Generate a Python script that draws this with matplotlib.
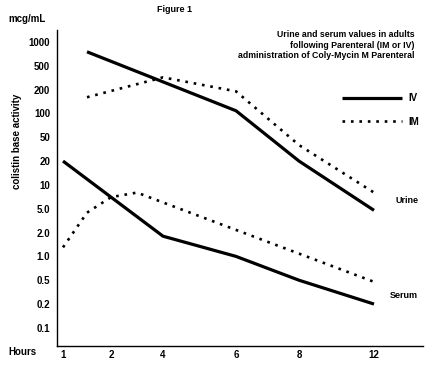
"""
Figure 1 - colistin base activity, urine and serum, IM vs IV
"""
import numpy as np
import matplotlib
matplotlib.use('Agg')
import matplotlib.pyplot as plt

plt.rcParams['font.family'] = ['Liberation Sans', 'DejaVu Sans']
plt.rcParams['font.weight'] = 'bold'

# data
hour_ticks = [1, 2, 4, 6, 8, 12]
conc_ticks = [0.1, 0.2, 0.5, 1.0, 2.0, 5.0, 10, 20, 50, 100, 200, 500, 1000]
conc_labels = ['0.1', '0.2', '0.5', '1.0', '2.0', '5.0', '10', '20', '50',
               '100', '200', '500', '1000']

urine_iv_h = [1.5, 6, 8, 12]
urine_iv = [750, 108, 20, 4.7]
urine_im_h = [1.5, 4, 6, 8, 12]
urine_im = [160, 320, 190, 37, 8]

serum_iv_h = [1, 4, 6, 8, 12]
serum_iv = [20, 1.8, 1.0, 0.5, 0.2]
serum_im_h = [1, 1.5, 2, 3, 4, 12]
serum_im = [1.3, 4.3, 7, 8, 6, 0.47]

# the hour axis of the original is hand spaced, the value axis has one
# equal step per tick; both are done as function scales
x_anchor_h = [0, 1, 2, 4, 6, 8, 12, 20]
x_anchor_p = [15, 63, 111, 163, 236, 299, 374, 524]

y_anchor_v = np.log10([0.05] + conc_ticks + [2000])
y_anchor_i = np.arange(-1, len(conc_ticks) + 1)


def x_fwd(h):
    return np.interp(h, x_anchor_h, x_anchor_p)


def x_inv(p):
    return np.interp(p, x_anchor_p, x_anchor_h)


def y_fwd(v):
    v = np.clip(v, 1e-6, None)
    return np.interp(np.log10(v), y_anchor_v, y_anchor_i)


def y_inv(i):
    return 10 ** np.interp(i, y_anchor_i, y_anchor_v)


def main():
    fig = plt.figure(figsize=(4.33, 3.67), dpi=100)
    ax = fig.add_axes([57/433, 1-346/367, 366/433, 316/367])
    ax.set_xscale('function', functions=(x_fwd, x_inv))
    ax.set_yscale('function', functions=(y_fwd, y_inv))

    solid = dict(color='black', lw=2.3, solid_capstyle='butt')
    dotted = dict(color='black', lw=1.9, linestyle=(0, (1, 2.2)),
                  dash_capstyle='butt')

    ax.plot(urine_iv_h, urine_iv, label='IV', **solid)
    ax.plot(urine_im_h, urine_im, label='IM', **dotted)
    ax.plot(serum_iv_h, serum_iv, **solid)
    ax.plot(serum_im_h, serum_im, **dotted)

    ax.set_xlim(x_inv(57), x_inv(423))
    ax.set_ylim(y_inv(-0.76), y_inv(12.5))

    ax.set_xticks(hour_ticks)
    ax.set_xticklabels([str(h) for h in hour_ticks])
    ax.set_yticks(conc_ticks)
    ax.set_yticklabels(conc_labels)
    ax.minorticks_off()
    ax.tick_params(axis='both', length=0, labelsize=7)
    ax.tick_params(axis='x', pad=3)
    ax.tick_params(axis='y', pad=5)

    for s in ['top', 'right']:
        ax.spines[s].set_visible(False)
    for s in ['left', 'bottom']:
        ax.spines[s].set_linewidth(1.0)

    ax.legend(loc='upper right', bbox_to_anchor=(0.99, 0.80),
              frameon=False, fontsize=7, handlelength=6.2,
              handletextpad=0.7, labelspacing=1.4, borderpad=0,
              borderaxespad=0)

    ax.text(418/433, 1-200/367, 'Urine', transform=fig.transFigure,
            ha='right', va='center', fontsize=6.5)
    ax.text(418/433, 1-295/367, 'Serum', transform=fig.transFigure,
            ha='right', va='center', fontsize=6.5)

    fig.text(175/433, 1-10/367, 'Figure 1', ha='center', va='center',
             fontsize=6.5)
    fig.text(8/433, 1-19/367, 'mcg/mL', ha='left', va='center', fontsize=7)
    fig.text(8/433, 1-352/367, 'Hours', ha='left', va='center', fontsize=7)
    fig.text(17/433, 1-141/367, 'colistin base activity', rotation=90,
             ha='center', va='center', fontsize=7)
    fig.text(415/433, 1-30/367,
             'Urine and serum values in adults\n'
             'following Parenteral (IM or IV)\n'
             'administration of Coly-Mycin M Parenteral',
             ha='right', va='top', fontsize=6.3, linespacing=1.25)

    fig.savefig('out.png', dpi=100)


if __name__ == '__main__':
    main()
